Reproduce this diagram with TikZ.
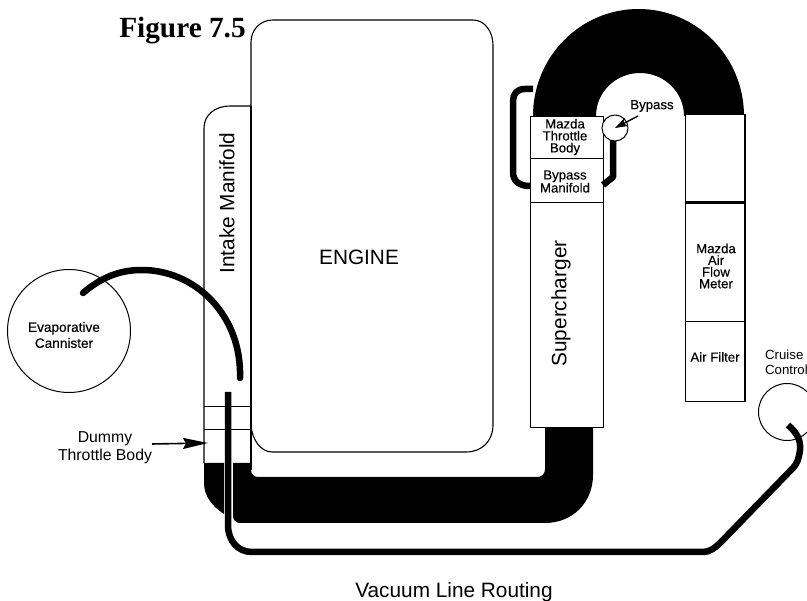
\documentclass[tikz,border=0pt]{standalone}
\usepackage{fontspec}
\setmainfont{Liberation Sans}
\newfontfamily\figfont{Liberation Serif}
\newfontfamily\smallfont[FakeBold=0.3]{Liberation Sans}
\usetikzlibrary{arrows.meta,calc,positioning}

\begin{document}
\begin{tikzpicture}[x=1pt,y=1pt,yscale=-1,line join=round]
    \tikzset{SmallStyle/.style={font=\fontsize{13.2}{12}\smallfont,align=center,inner sep=0pt},
      BigStyle/.style={font=\fontsize{20.8}{24}\selectfont,inner sep=0pt},
      MidStyle/.style={font=\fontsize{15.8}{18}\selectfont,align=center,inner sep=0pt},
      BoxStyle/.style={draw,line width=1pt,fill=white,inner sep=0pt,minimum width=73pt},
      HoseStyle/.style={line width=6.5pt,line cap=round},
      BodyStyle/.style={line width=1.1pt},
      RingStyle/.style={draw,circle,line width=1pt,inner sep=0pt}}
    \useasboundingbox (0,0) rectangle (807,601);

    \draw[BodyStyle] (251,425) -- (251,42) .. controls (251,30) and (260,20) .. (273,20) -- (473,20)
      .. controls (485,20) and (493,32) .. (493,45) -- (493,425)
      .. controls (493,441) and (482,452) .. (466,452) -- (272,452)
      .. controls (261,452) and (252,440) .. (251,425);
    \draw[BodyStyle] (251,106) -- (230,106) .. controls (215,106) and (204,115) .. (204,128)
      -- (204,463);
    \draw[BodyStyle] (251,106) -- (251,470);
    \draw[line width=0.9pt] (204,406) -- (251,406);
    \draw[line width=0.9pt] (204,429) -- (251,429);

    % black pipes
    \fill (204,463) -- (224,463) -- (224,514) .. controls (212,506) and (204,496) .. (204,483) -- cycle;
    \fill (233,463) -- (251,463) -- (251,470) .. controls (251,474) and (254,477) .. (258,477)
      -- (537,477) .. controls (542,477) and (545,474) .. (545,469) -- (545,428) -- (593,428) -- (593,475)
      .. controls (593,503) and (572,523) .. (545,523) -- (240,523)
      .. controls (236,523) and (233,520) .. (233,516) -- cycle;
    \fill (533,116) arc[start angle=180,end angle=360,x radius=105.5,y radius=107]
      -- (684,116) arc[start angle=360,end angle=180,x radius=44,y radius=43] -- cycle;

    \node[BoxStyle,minimum height=42pt] (TB) at (566.5,138) {};
    \node[BoxStyle,minimum height=44pt] (BM) at (566.5,181) {};
    \node[BoxStyle,minimum height=225pt] (SC) at (566.5,315.5) {};
    \node[BoxStyle,minimum width=59pt,minimum height=87pt] (TO) at (715,158.5) {};
    \node[BoxStyle,minimum width=59pt,minimum height=120pt] (MF) at (715,262) {};
    \node[BoxStyle,minimum width=59pt,minimum height=80pt] (AF) at (715,362) {};
    \draw[line width=2.4pt] (TO.south west) -- (TO.south east);
    \draw[line width=1.8pt] (TO.north east) -- (AF.south east);

    % bypass hose
    \draw[line width=6.5pt] (533,89) -- (525,89) .. controls (517,89) and (513,94) .. (513,101) -- (513,172)
      .. controls (513,181) and (519,186) .. (530,186);
    \draw[line width=6.5pt] (613,135) -- (613,177) -- (603,185);
    \node[RingStyle,fill=white,minimum size=26pt] (BP) at (615,128) {};

    \node[SmallStyle] at (565,137) (TBtext) {Mazda\\Throttle\\Body};
    \node[SmallStyle,font=\fontsize{13.2}{13}\smallfont] at (565,181.5) (BMtext) {Bypass\\Manifold};
    \node[SmallStyle,font=\fontsize{13.2}{11.7}\smallfont] at (716,266) (MFtext) {Mazda\\Air\\Flow\\Meter};
    \node[SmallStyle] at (715,357) (AFtext) {Air Filter};
    \node[SmallStyle] at (652,106) (BPtext) {Bypass};
    \coordinate (BPa) at (638,116);
    \draw[-{Stealth[length=12pt,width=8pt,inset=2pt]},line width=1.4pt] (BPa) -- (BP.center);

    \node[BigStyle,rotate=90] at (227,203) (IM) {Intake Manifold};
    \node[BigStyle,rotate=90] at (561,303.5) (SCtext) {Supercharger};
    \node[BigStyle] at (359,257) (EN) {ENGINE};
    \node[BigStyle] at (454,592) (VL) {Vacuum Line Routing};
    \node[font=\fontsize{29.3}{32}\figfont\bfseries,inner sep=0pt] at (182.5,31) (FIG) {Figure 7.5};

    % canister
    \node[RingStyle,minimum size=123pt] (EC) at (69,331) {};
    \node[SmallStyle,font=\fontsize{13.6}{16}\smallfont] at (64,335) (ECtext) {Evaporative\\Cannister};
    \coordinate (ECa) at (83,293);
    \coordinate (ECb) at (240,378);
    \draw[HoseStyle] (ECa) .. controls (105,274) and (125,270) .. (142,270)
      .. controls (195,270) and (242,315) .. (ECb);

    % cruise control
    \node[RingStyle,minimum size=57pt] (CC) at (787,412) {};
    \node[SmallStyle,align=left,anchor=west,font=\fontsize{13.2}{15}\selectfont] at (765,362.5) (CCtext) {Cruise\\Control};

    % dummy throttle
    \node[MidStyle] at (105,448) (DT) {Dummy\\Throttle Body};
    \coordinate (DTa) at (152,444);
    \coordinate (DTb) at (208,443);
    \draw[-{Stealth[length=25pt,width=11pt,inset=3pt]},line width=1.6pt] (DTa) -- (DTb);

    % vacuum line
    \coordinate (VLa) at (788,425);
    \coordinate (VLb) at (228,392);
    \draw[line width=6.5pt,line join=round] (VLa) .. controls (797,433) and (801,440) .. (800,450)
      .. controls (799,458) and (797,464) .. (793,468) -- (722,541)
      .. controls (715,548) and (710,552) .. (703,552) -- (252,552)
      .. controls (238,552) and (228,541) .. (228,525) -- (VLb);
\end{tikzpicture}
\end{document}
